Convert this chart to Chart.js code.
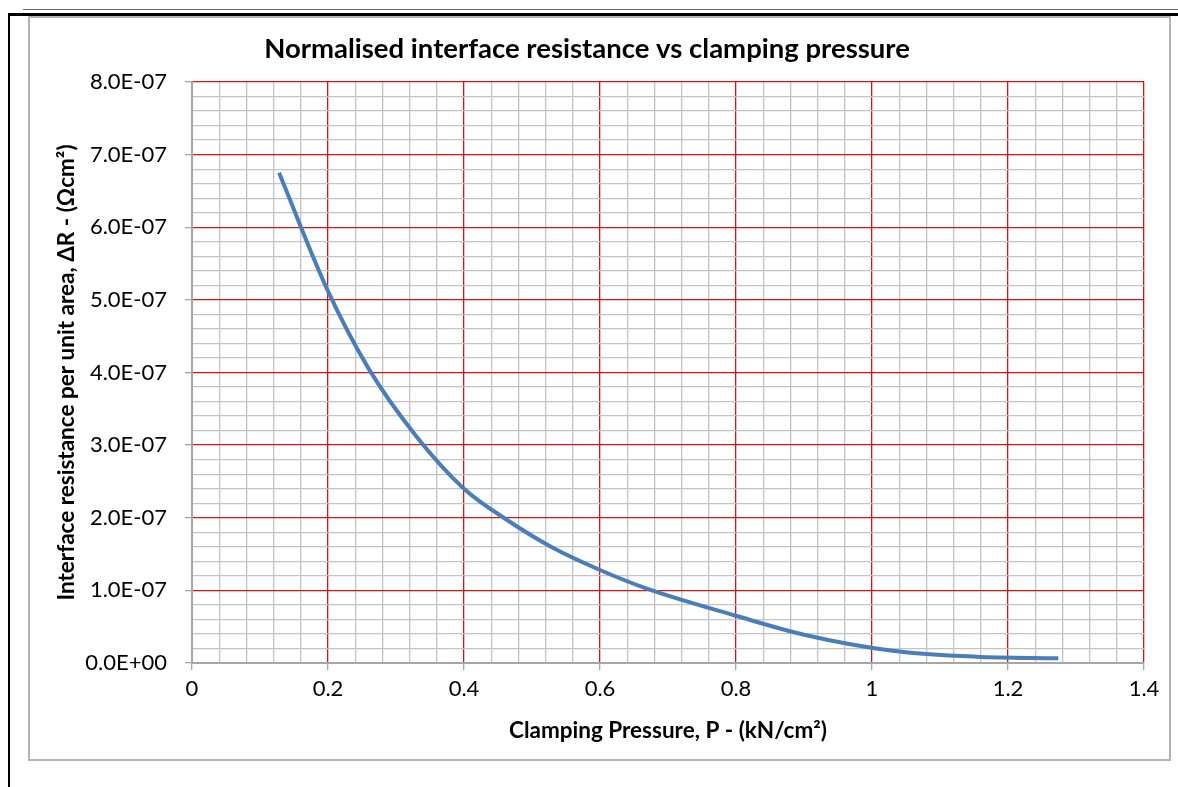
<!DOCTYPE html>
<html lang="en">
<head>
<meta charset="UTF-8">
<title>Normalised interface resistance vs clamping pressure</title>
<script src="https://cdn.jsdelivr.net/npm/chart.js"></script>
<style>
html, body { margin: 0; padding: 0; background: #fff; }
body { width: 1178px; height: 787px; position: relative; overflow: hidden; }
.rule-thin { position: absolute; left: 23px; right: 0; top: 9px; height: 1px; background: #666; }
.rule-thick { position: absolute; left: 8px; right: 0; top: 13px; height: 3px; background: #000; }
.rule-left { position: absolute; left: 8px; top: 13px; bottom: 0; width: 2px; background: #000; }
.frame { position: absolute; left: 28px; top: 16px; width: 1143px; height: 745px; border: 2px solid #b3b3b3; box-sizing: border-box; }
#wrap { position: absolute; left: 0; top: 0; width: 1178px; height: 787px; }
</style>
</head>
<body>
<div class="rule-thin"></div>
<div class="rule-thick"></div>
<div class="rule-left"></div>
<div class="frame"></div>
<div id="wrap"><canvas id="chart"></canvas></div>
<script>
// values
const pressure = [0.128, 0.2, 0.26, 0.33, 0.4, 0.46, 0.53, 0.6, 0.67, 0.8, 0.9, 1.03, 1.153, 1.274];
const resistance = [6.75e-7, 5.12e-7, 4.05e-7, 3.12e-7, 2.4e-7, 1.99e-7, 1.59e-7, 1.28e-7, 1.02e-7, 6.5e-8, 3.9e-8, 1.7e-8, 8.7e-9, 6.5e-9];

const xMajor = [0, 0.2, 0.4, 0.6, 0.8, 1, 1.2, 1.4];
const yMajor = [0, 1e-7, 2e-7, 3e-7, 4e-7, 5e-7, 6e-7, 7e-7, 8e-7];
const minorPerMajor = 5;

const RED = '#d81414';
const MINOR = '#c4c4c4';
const AXIS = '#a6a6a6';

function withMinor(major) {
  const out = [];
  for (let i = 0; i < major.length - 1; i++) {
    const a = major[i], b = major[i + 1];
    for (let k = 0; k < minorPerMajor; k++) out.push({ value: a + (b - a) * k / minorPerMajor });
  }
  out.push({ value: major[major.length - 1] });
  return out;
}

function sci(v) {
  const parts = v.toExponential(1).split('e');
  const e = parseInt(parts[1], 10);
  return parts[0] + 'E' + (e < 0 ? '-' : '+') + String(Math.abs(e)).padStart(2, '0');
}

const gridColor = ctx => ctx.index === 0 ? AXIS : (ctx.index % minorPerMajor === 0 ? RED : MINOR);
const tickColor = ctx => ctx.index % minorPerMajor === 0 ? AXIS : 'rgba(0,0,0,0)';

const tickFont = { family: 'Lato', size: 22 };
const axisFont = { family: 'Lato', size: 22.5, weight: 'bold' };

new Chart(document.getElementById('chart'), {
  type: 'scatter',
  data: {
    datasets: [{
      data: pressure.map((p, i) => ({ x: p, y: resistance[i] })),
      showLine: true,
      borderColor: '#4a7ebb',
      borderWidth: 4,
      pointRadius: 0,
      cubicInterpolationMode: 'monotone',
      fill: false
    }]
  },
  options: {
    responsive: true,
    maintainAspectRatio: false,
    animation: false,
    layout: { padding: { left: 30, right: 34, top: 0, bottom: 25 } },
    plugins: {
      legend: { display: false },
      tooltip: { enabled: false },
      title: {
        display: true,
        text: 'Normalised interface resistance vs clamping pressure',
        color: '#000',
        font: { family: 'Lato', size: 27.5, weight: 'bold' },
        padding: { top: 33, bottom: 16 }
      }
    },
    scales: {
      x: {
        type: 'linear',
        min: 0,
        max: 1.4,
        afterBuildTicks: s => { s.ticks = withMinor(xMajor); },
        afterFit: s => { s.height = 99; },
        ticks: {
          autoSkip: false,
          maxRotation: 0,
          color: '#000',
          font: tickFont,
          padding: 6,
          callback: (v, i) => i % minorPerMajor === 0 ? String(xMajor[i / minorPerMajor]) : ''
        },
        grid: { color: gridColor, tickColor: tickColor, tickLength: 7, lineWidth: 1.3 },
        border: { color: AXIS, width: 2 },
        title: {
          display: true,
          text: 'Clamping Pressure, P - (kN/cm²)',
          color: '#000',
          font: axisFont,
          padding: { top: 10, bottom: 18 }
        }
      },
      y: {
        type: 'linear',
        min: 0,
        max: 8e-7,
        afterBuildTicks: s => { s.ticks = withMinor(yMajor); },
        afterFit: s => { s.width = 162; },
        ticks: {
          autoSkip: false,
          color: '#000',
          font: tickFont,
          padding: 18,
          callback: (v, i) => i % minorPerMajor === 0 ? sci(yMajor[i / minorPerMajor]) : ''
        },
        grid: { color: gridColor, tickColor: tickColor, tickLength: 7, lineWidth: 1.3 },
        border: { color: AXIS, width: 2 },
        title: {
          display: true,
          text: 'Interface resistance per unit area, ΔR - (Ωcm²)',
          color: '#000',
          font: axisFont,
          padding: { top: 23, bottom: 0 }
        }
      }
    }
  }
});
</script>
</body>
</html>
